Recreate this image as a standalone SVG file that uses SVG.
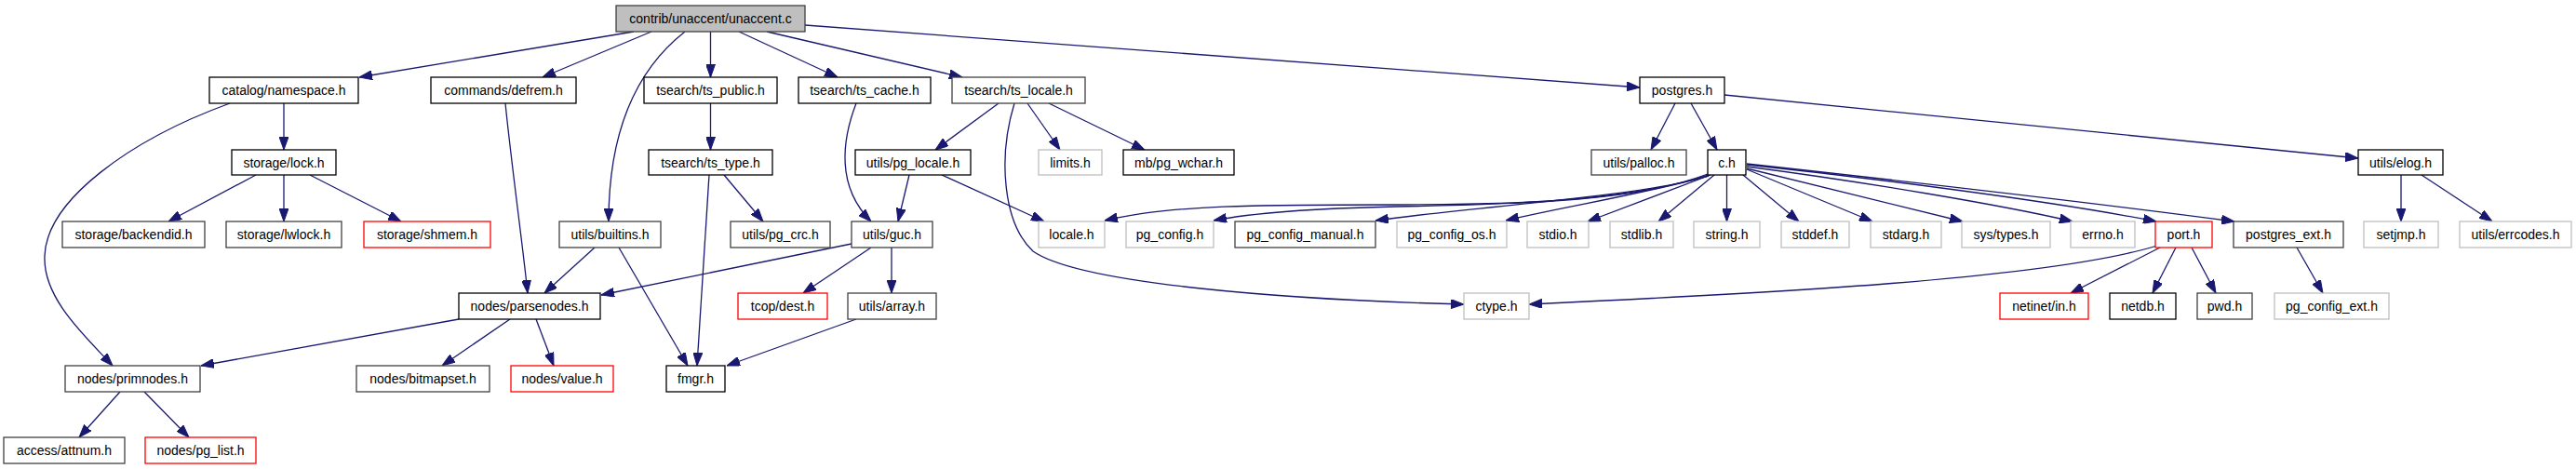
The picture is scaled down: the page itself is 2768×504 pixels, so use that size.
<svg xmlns="http://www.w3.org/2000/svg" width="2768" height="504" viewBox="0 0 2768 504">
<style>
rect{fill:#fff;stroke:#000;stroke-width:1.3}
.dk rect{stroke:#404040}
.gr rect{stroke:#bfbfbf}
.rd rect{stroke:#ff0000}
.root rect{fill:#bfbfbf;stroke:#404040}
text{font-family:"Liberation Sans",Arial,sans-serif;font-size:14px;fill:#000;text-anchor:middle}
#edges path{fill:none;stroke:#191970;stroke-width:1.3;marker-end:url(#ah)}
</style>
<defs>
<marker id="ah" markerUnits="userSpaceOnUse" markerWidth="14" markerHeight="10" refX="14" refY="5" orient="auto" viewBox="0 0 14 10">
<path d="M0,0 L14,5 L0,10 z" fill="#191970" stroke="#191970" stroke-width="1"/>
</marker>
</defs>
<rect x="0" y="0" width="2768" height="504" style="fill:#fff;stroke:none"/>
<g id="edges">
<path d="M681,34 L386,83"/>
<path d="M700,34 L583,83"/>
<path d="M736,34 C690,70 654,130 654,238"/>
<path d="M763.5,34 L763.5,83"/>
<path d="M794,34 L900,83"/>
<path d="M824,34 L1034,83"/>
<path d="M865,27 L1762,94"/>
<path d="M305,111 L305,161"/>
<path d="M247,111 C140,150 50,215 48,275 C46,320 90,360 121,393"/>
<path d="M275,188 L181,238"/>
<path d="M305,188 L305,238"/>
<path d="M333,188 L431,238"/>
<path d="M543,111 C550,180 560,250 567,315"/>
<path d="M639,266 L585,315"/>
<path d="M665,266 L739,393"/>
<path d="M763.5,111 L763.5,161"/>
<path d="M762,188 L749,393"/>
<path d="M778,188 L820,238"/>
<path d="M920,111 C905,150 898,200 936,238"/>
<path d="M1073,111 L1005,161"/>
<path d="M1104,111 L1139,161"/>
<path d="M1127,111 L1230,161"/>
<path d="M1090,111 C1072,170 1078,240 1110,270 C1160,305 1380,322 1573,327"/>
<path d="M977,188 L965,238"/>
<path d="M1012,188 L1122,238"/>
<path d="M915,262 L646,317"/>
<path d="M936,266 L863,315"/>
<path d="M958,266 L958,315"/>
<path d="M920,343 L781,393"/>
<path d="M493,343 L216,393"/>
<path d="M548,343 L475,393"/>
<path d="M576,343 L595,393"/>
<path d="M129,421 L85,470"/>
<path d="M155,421 L203,470"/>
<path d="M1800,111 L1774,161"/>
<path d="M1817,111 L1845,161"/>
<path d="M1853,102 L2534,170"/>
<path d="M1835,187 C1760,215 1650,220 1500,220 C1350,220 1260,220 1187,237"/>
<path d="M1835,188 C1760,215 1620,220 1500,222 C1410,224 1350,228 1304,237"/>
<path d="M1836,189 C1760,212 1600,220 1478,237"/>
<path d="M1836,189 C1760,210 1680,222 1618,237"/>
<path d="M1838,188 L1706,238"/>
<path d="M1842,188 L1782,238"/>
<path d="M1855.5,188 L1855.5,238"/>
<path d="M1873,188 L1933,238"/>
<path d="M1877,182 L2012,238"/>
<path d="M1877,181 L2109,238"/>
<path d="M1877,179 C2000,195 2150,220 2227,238"/>
<path d="M1877,177 C2000,190 2200,215 2317,238"/>
<path d="M1877,176 C2050,195 2250,218 2401,238"/>
<path d="M2318,264 C2200,300 1900,315 1643,327"/>
<path d="M2321,266 L2225,315"/>
<path d="M2338,266 L2313,315"/>
<path d="M2355,266 L2381,315"/>
<path d="M2468,266 L2496,315"/>
<path d="M2580,188 L2580,238"/>
<path d="M2602,188 L2678,238"/>
</g>
<g id="n_root" class="root"><rect x="662" y="6" width="203" height="28"/><text x="763.5" y="25">contrib/unaccent/unaccent.c</text></g>
<g id="n_namespace"><rect x="225" y="83" width="160" height="28"/><text x="305" y="102">catalog/namespace.h</text></g>
<g id="n_defrem"><rect x="463" y="83" width="156" height="28"/><text x="541" y="102">commands/defrem.h</text></g>
<g id="n_ts_public"><rect x="692" y="83" width="143" height="28"/><text x="763.5" y="102">tsearch/ts_public.h</text></g>
<g id="n_ts_cache"><rect x="858" y="83" width="142" height="28"/><text x="929" y="102">tsearch/ts_cache.h</text></g>
<g id="n_ts_locale" class="dk"><rect x="1023" y="83" width="143" height="28"/><text x="1094.5" y="102">tsearch/ts_locale.h</text></g>
<g id="n_postgres"><rect x="1762" y="83" width="91" height="28"/><text x="1807.5" y="102">postgres.h</text></g>
<g id="n_lock"><rect x="249" y="161" width="112" height="27"/><text x="305" y="180">storage/lock.h</text></g>
<g id="n_ts_type"><rect x="697" y="161" width="133" height="27"/><text x="763.5" y="180">tsearch/ts_type.h</text></g>
<g id="n_pg_locale"><rect x="919" y="161" width="124" height="27"/><text x="981" y="180">utils/pg_locale.h</text></g>
<g id="n_limits" class="gr"><rect x="1116" y="161" width="68" height="27"/><text x="1150" y="180">limits.h</text></g>
<g id="n_pg_wchar"><rect x="1207" y="161" width="119" height="27"/><text x="1266.5" y="180">mb/pg_wchar.h</text></g>
<g id="n_palloc" class="dk"><rect x="1710" y="161" width="102" height="27"/><text x="1761" y="180">utils/palloc.h</text></g>
<g id="n_c"><rect x="1835" y="161" width="41" height="27"/><text x="1855.5" y="180">c.h</text></g>
<g id="n_elog"><rect x="2534" y="161" width="91" height="27"/><text x="2579.5" y="180">utils/elog.h</text></g>
<g id="n_backendid" class="dk"><rect x="67" y="238" width="153" height="28"/><text x="143.5" y="257">storage/backendid.h</text></g>
<g id="n_lwlock" class="dk"><rect x="243" y="238" width="124" height="28"/><text x="305" y="257">storage/lwlock.h</text></g>
<g id="n_shmem" class="rd"><rect x="391" y="238" width="136" height="28"/><text x="459" y="257">storage/shmem.h</text></g>
<g id="n_builtins" class="dk"><rect x="601" y="238" width="109" height="28"/><text x="655.5" y="257">utils/builtins.h</text></g>
<g id="n_pg_crc" class="dk"><rect x="785" y="238" width="107" height="28"/><text x="838.5" y="257">utils/pg_crc.h</text></g>
<g id="n_guc" class="dk"><rect x="915" y="238" width="87" height="28"/><text x="958.5" y="257">utils/guc.h</text></g>
<g id="n_locale" class="gr"><rect x="1116" y="238" width="71" height="28"/><text x="1151.5" y="257">locale.h</text></g>
<g id="n_pg_config" class="gr"><rect x="1210" y="238" width="94" height="28"/><text x="1257" y="257">pg_config.h</text></g>
<g id="n_pg_config_manual" class="dk"><rect x="1327" y="238" width="151" height="28"/><text x="1402.5" y="257">pg_config_manual.h</text></g>
<g id="n_pg_config_os" class="gr"><rect x="1501" y="238" width="118" height="28"/><text x="1560" y="257">pg_config_os.h</text></g>
<g id="n_stdio" class="gr"><rect x="1641" y="238" width="66" height="28"/><text x="1674" y="257">stdio.h</text></g>
<g id="n_stdlib" class="gr"><rect x="1730" y="238" width="68" height="28"/><text x="1764" y="257">stdlib.h</text></g>
<g id="n_string" class="gr"><rect x="1820" y="238" width="71" height="28"/><text x="1855.5" y="257">string.h</text></g>
<g id="n_stddef" class="gr"><rect x="1914" y="238" width="73" height="28"/><text x="1950.5" y="257">stddef.h</text></g>
<g id="n_stdarg" class="gr"><rect x="2010" y="238" width="76" height="28"/><text x="2048" y="257">stdarg.h</text></g>
<g id="n_sys_types" class="gr"><rect x="2108" y="238" width="95" height="28"/><text x="2155.5" y="257">sys/types.h</text></g>
<g id="n_errno" class="gr"><rect x="2225" y="238" width="69" height="28"/><text x="2259.5" y="257">errno.h</text></g>
<g id="n_port" class="rd"><rect x="2316" y="238" width="61" height="28"/><text x="2346.5" y="257">port.h</text></g>
<g id="n_postgres_ext" class="dk"><rect x="2400" y="238" width="118" height="28"/><text x="2459" y="257">postgres_ext.h</text></g>
<g id="n_setjmp" class="gr"><rect x="2540" y="238" width="80" height="28"/><text x="2580" y="257">setjmp.h</text></g>
<g id="n_errcodes" class="gr"><rect x="2643" y="238" width="120" height="28"/><text x="2703" y="257">utils/errcodes.h</text></g>
<g id="n_parsenodes"><rect x="493" y="315" width="152" height="28"/><text x="569" y="334">nodes/parsenodes.h</text></g>
<g id="n_dest" class="rd"><rect x="793" y="315" width="96" height="28"/><text x="841" y="334">tcop/dest.h</text></g>
<g id="n_array" class="dk"><rect x="911" y="315" width="95" height="28"/><text x="958.5" y="334">utils/array.h</text></g>
<g id="n_ctype" class="gr"><rect x="1573" y="315" width="70" height="28"/><text x="1608" y="334">ctype.h</text></g>
<g id="n_netinet_in" class="rd"><rect x="2149" y="315" width="95" height="28"/><text x="2196.5" y="334">netinet/in.h</text></g>
<g id="n_netdb"><rect x="2267" y="315" width="71" height="28"/><text x="2302.5" y="334">netdb.h</text></g>
<g id="n_pwd" class="dk"><rect x="2361" y="315" width="59" height="28"/><text x="2390.5" y="334">pwd.h</text></g>
<g id="n_pg_config_ext" class="gr"><rect x="2444" y="315" width="123" height="28"/><text x="2505.5" y="334">pg_config_ext.h</text></g>
<g id="n_primnodes" class="dk"><rect x="70" y="393" width="145" height="28"/><text x="142.5" y="412">nodes/primnodes.h</text></g>
<g id="n_bitmapset" class="dk"><rect x="383" y="393" width="143" height="28"/><text x="454.5" y="412">nodes/bitmapset.h</text></g>
<g id="n_value" class="rd"><rect x="549" y="393" width="110" height="28"/><text x="604" y="412">nodes/value.h</text></g>
<g id="n_fmgr"><rect x="716" y="393" width="63" height="28"/><text x="747.5" y="412">fmgr.h</text></g>
<g id="n_attnum" class="dk"><rect x="4" y="470" width="130" height="28"/><text x="69" y="489">access/attnum.h</text></g>
<g id="n_pg_list" class="rd"><rect x="156" y="470" width="119" height="28"/><text x="215.5" y="489">nodes/pg_list.h</text></g>
</svg>
